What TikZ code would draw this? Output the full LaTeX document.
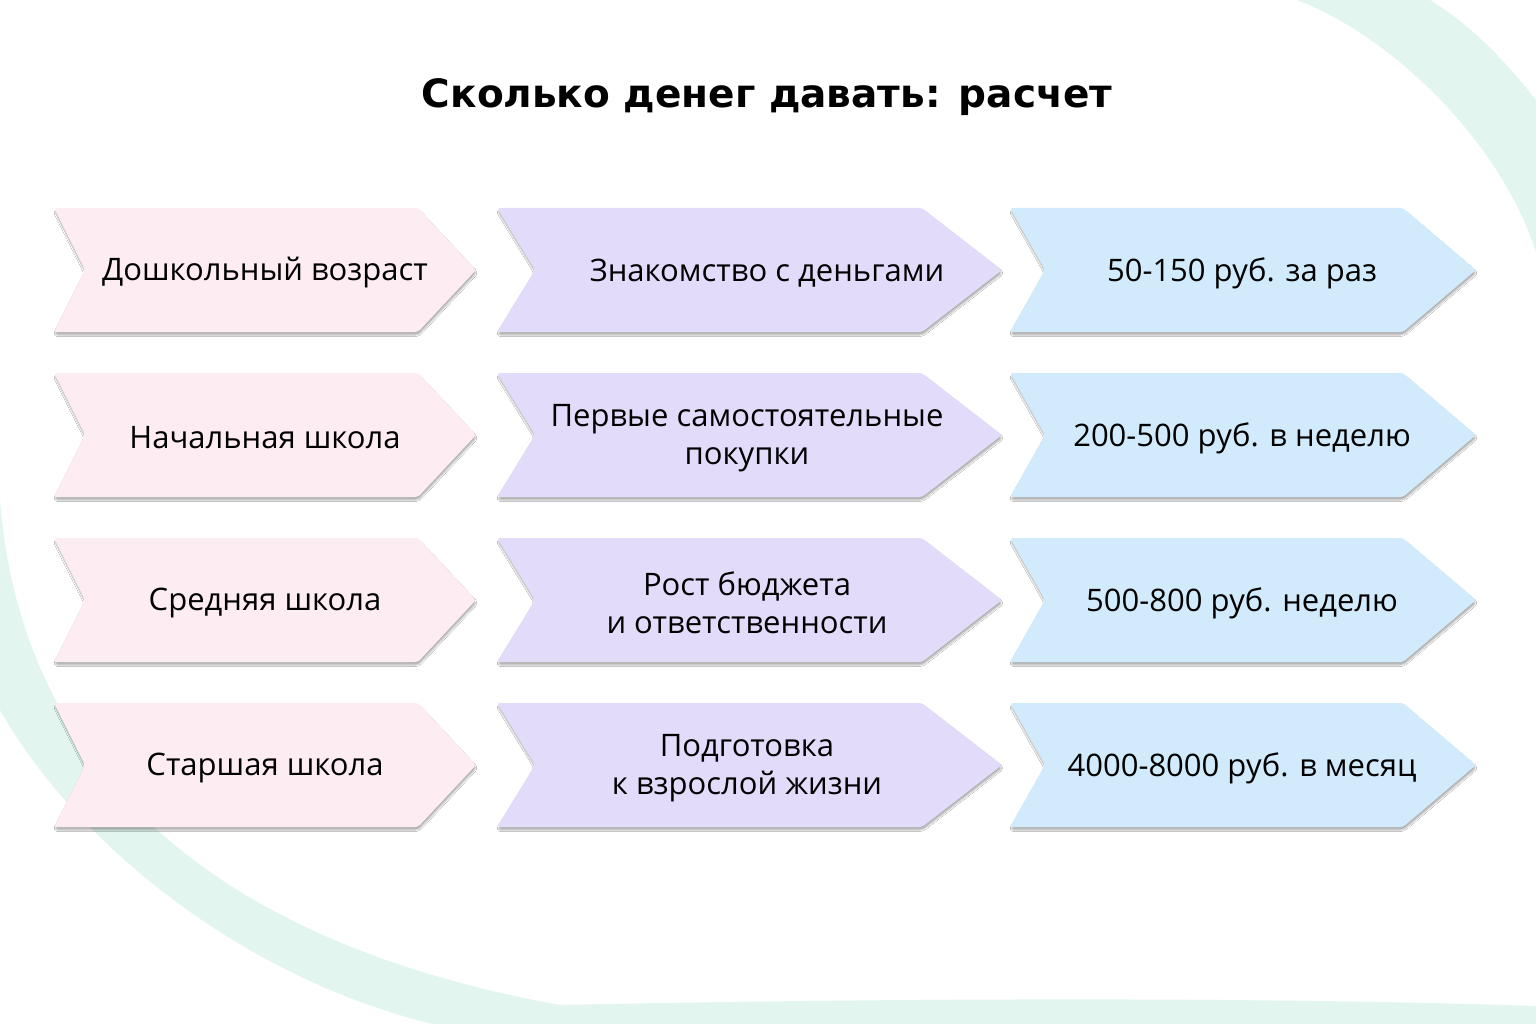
\documentclass[tikz,border=0pt]{standalone}
\usepackage{fontspec}
\setmainfont{Open Sans}
\newfontfamily\titlefont{DejaVu Sans}[BoldFont={DejaVu Sans Bold}]
\usepackage{tikz}
\usetikzlibrary{shadows.blur}
\definecolor{agepink}{RGB}{253,236,242}
\definecolor{goallilac}{RGB}{227,219,250}
\definecolor{sumblue}{RGB}{209,234,252}
\definecolor{swoosh}{RGB}{226,245,239}

% chevron: fill, left x, tip x, middle y, notch depth, tip depth
\newcommand{\chevron}[6]{%
  \fill[#1, rounded corners=3pt, blur shadow={shadow xshift=0.5pt, shadow yshift=-3pt, shadow blur radius=1.5pt, shadow opacity=30}]
    (#2,#4-62) -- (#3-#6,#4-62) -- (#3,#4) -- (#3-#6,#4+62) -- (#2,#4+62) -- (#2+#5,#4) -- cycle;}

\begin{document}
\begin{tikzpicture}[x=1pt, y=-1pt]
    % Styles
    \tikzstyle{label} = [font=\fontsize{31}{38}\selectfont, align=center, text=black, inner sep=0pt]
    \tikzstyle{heading} = [font=\titlefont\bfseries\fontsize{39}{46}\selectfont, text=black, inner sep=0pt]

    % Canvas
    \fill[white] (0,0) rectangle (1536,1024);
    \useasboundingbox (0,0) rectangle (1536,1024);

    % Background swooshes
    \fill[swoosh] (1297,0) .. controls (1390,35) and (1500,140) .. (1536,252)
        -- (1536,100) .. controls (1500,55) and (1470,25) .. (1430,0) -- cycle;
    \fill[swoosh] (0,500) .. controls (20,760) and (200,940) .. (560,1005)
        .. controls (800,1000) and (1200,995) .. (1536,1006)
        -- (1536,1024) -- (433,1024)
        .. controls (250,980) and (80,850) .. (0,710) -- cycle;

    % Title
    \node[heading] (title) at (767,97) {Сколько денег давать: расчет};

    % Age column
    \chevron{agepink}{54}{476}{270}{31}{58}
    \chevron{agepink}{54}{476}{435}{31}{58}
    \chevron{agepink}{54}{476}{600}{31}{58}
    \chevron{agepink}{54}{476}{765}{31}{58}
    \node[label] (age1) at (265,273) {Дошкольный возраст};
    \node[label] (age2) at (265,438) {Начальная школа};
    \node[label] (age3) at (265,603) {Средняя школа};
    \node[label] (age4) at (265,768) {Старшая школа};

    % Goal column
    \chevron{goallilac}{497}{1002}{270}{38}{80}
    \chevron{goallilac}{497}{1002}{435}{38}{80}
    \chevron{goallilac}{497}{1002}{600}{38}{80}
    \chevron{goallilac}{497}{1002}{765}{38}{80}
    \node[label] (goal1) at (767,273) {Знакомство с деньгами};
    \node[label] (goal2) at (747,438) {Первые самостоятельные\\покупки};
    \node[label] (goal3) at (747,603) {Рост бюджета\\и ответственности};
    \node[label] (goal4) at (747,768) {Подготовка\\к взрослой жизни};

    % Sum column
    \chevron{sumblue}{1010}{1476}{270}{35}{73}
    \chevron{sumblue}{1010}{1476}{435}{35}{73}
    \chevron{sumblue}{1010}{1476}{600}{35}{73}
    \chevron{sumblue}{1010}{1476}{765}{35}{73}
    \node[label] (sum1) at (1242,273) {50-150 руб. за раз};
    \node[label] (sum2) at (1242,438) {200-500 руб. в неделю};
    \node[label] (sum3) at (1242,603) {500-800 руб. неделю};
    \node[label] (sum4) at (1242,768) {4000-8000 руб. в месяц};
\end{tikzpicture}
\end{document}
